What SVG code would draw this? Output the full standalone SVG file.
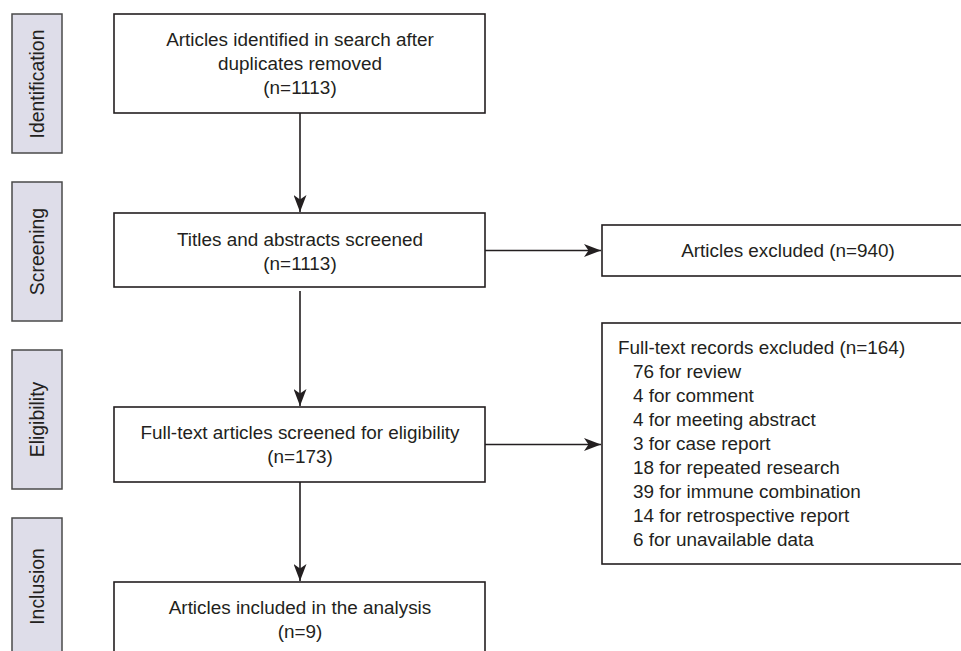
<svg xmlns="http://www.w3.org/2000/svg" width="961" height="651" viewBox="0 0 961 651">
<style>
.stage{fill:#dedde9;stroke:#4a4a4a;stroke-width:1.5}
.box{fill:#fff;stroke:#231f20;stroke-width:1.6}
.t{font-family:"Liberation Sans",Arial,sans-serif;font-size:18.9px;fill:#231f20}
.s{font-size:19.4px}
.c{text-anchor:middle}
.line{stroke:#231f20;stroke-width:1.6;fill:none}
</style>
<defs>
<marker id="ah" viewBox="0 0 17 13" refX="17" refY="6.5" markerWidth="17" markerHeight="13" markerUnits="userSpaceOnUse" orient="auto">
<path d="M0,0 L17,6.5 L0,13 L4.5,6.5 Z" fill="#231f20"/>
</marker>
</defs>
<rect width="961" height="651" fill="#fff"/>
<g id="stage-identification"><rect class="stage" x="12" y="14" width="50" height="139"/><text class="t s c" transform="translate(44,84) rotate(-90)">Identification</text></g>
<g id="stage-screening"><rect class="stage" x="12" y="182" width="50" height="139"/><text class="t s c" transform="translate(44,251.5) rotate(-90)">Screening</text></g>
<g id="stage-eligibility"><rect class="stage" x="12" y="350" width="50" height="139"/><text class="t s c" transform="translate(44,419.5) rotate(-90)">Eligibility</text></g>
<g id="stage-inclusion"><rect class="stage" x="12" y="518" width="50" height="145"/><text class="t s c" transform="translate(44,586.5) rotate(-90)">Inclusion</text></g>
<g id="identified"><rect class="box" x="114" y="14" width="371" height="99"/><text class="t c" x="300" y="46">Articles identified in search after</text><text class="t c" x="300" y="70">duplicates removed</text><text class="t c" x="300" y="94">(n=1113)</text></g>
<g id="screened"><rect class="box" x="114" y="213" width="371" height="74"/><text class="t c" x="300" y="246">Titles and abstracts screened</text><text class="t c" x="300" y="270">(n=1113)</text></g>
<g id="fulltext"><rect class="box" x="114" y="407" width="371" height="75"/><text class="t c" x="300" y="439">Full-text articles screened for eligibility</text><text class="t c" x="300" y="463">(n=173)</text></g>
<g id="included"><rect class="box" x="114" y="582" width="371" height="80"/><text class="t c" x="300" y="614">Articles included in the analysis</text><text class="t c" x="300" y="638">(n=9)</text></g>
<g id="excluded1"><rect class="box" x="602" y="225" width="370" height="51"/><text class="t c" x="788" y="257">Articles excluded (n=940)</text></g>
<g id="excluded2"><rect class="box" x="602" y="323" width="370" height="241"/>
<text class="t" x="618" y="354">Full-text records excluded (n=164)</text>
<text class="t" x="633" y="378">76 for review</text>
<text class="t" x="633" y="402">4 for comment</text>
<text class="t" x="633" y="426">4 for meeting abstract</text>
<text class="t" x="633" y="450">3 for case report</text>
<text class="t" x="633" y="474">18 for repeated research</text>
<text class="t" x="633" y="498">39 for immune combination</text>
<text class="t" x="633" y="522">14 for retrospective report</text>
<text class="t" x="633" y="546">6 for unavailable data</text>
</g>
<g id="connectors">
<line class="line" x1="300" y1="113" x2="300" y2="212" marker-end="url(#ah)"/>
<line class="line" x1="300" y1="291" x2="300" y2="406" marker-end="url(#ah)"/>
<line class="line" x1="300" y1="482" x2="300" y2="581" marker-end="url(#ah)"/>
<line class="line" x1="485" y1="250.5" x2="601" y2="250.5" marker-end="url(#ah)"/>
<line class="line" x1="485" y1="444.5" x2="601" y2="444.5" marker-end="url(#ah)"/>
</g>
</svg>
